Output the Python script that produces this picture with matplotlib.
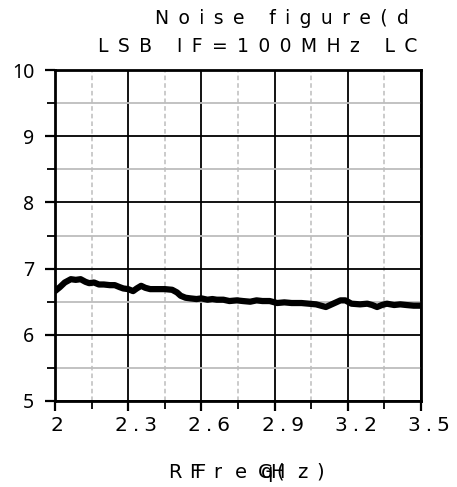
import matplotlib
matplotlib.use('Agg')
import matplotlib.pyplot as plt
import matplotlib.transforms as mtransforms
from matplotlib.ticker import AutoMinorLocator

# RF sweep, GHz, and the measured noise figure, dB
freq = [2.00, 2.02, 2.04, 2.065, 2.085, 2.105, 2.125, 2.14, 2.16, 2.18, 2.20,
        2.225, 2.245, 2.265, 2.28, 2.30, 2.32, 2.335, 2.353, 2.37, 2.39, 2.42,
        2.45, 2.48, 2.50, 2.515, 2.535, 2.555, 2.58, 2.60, 2.625, 2.645, 2.663,
        2.69, 2.715, 2.745, 2.77, 2.80, 2.826, 2.85, 2.88, 2.91, 2.94, 2.97,
        3.01, 3.04, 3.07, 3.09, 3.11, 3.14, 3.17, 3.19, 3.215, 3.25, 3.28, 3.30,
        3.32, 3.34, 3.36, 3.39, 3.415, 3.44, 3.47, 3.50]
nf_db = [6.66, 6.72, 6.79, 6.84, 6.83, 6.84, 6.80, 6.78, 6.79, 6.76, 6.76,
         6.75, 6.75, 6.72, 6.70, 6.69, 6.66, 6.70, 6.74, 6.71, 6.69, 6.69,
         6.69, 6.68, 6.64, 6.59, 6.56, 6.55, 6.54, 6.55, 6.53, 6.54, 6.53,
         6.53, 6.51, 6.52, 6.51, 6.50, 6.52, 6.51, 6.51, 6.48, 6.49, 6.48,
         6.48, 6.47, 6.46, 6.44, 6.42, 6.47, 6.52, 6.52, 6.47, 6.46, 6.47, 6.45,
         6.42, 6.45, 6.47, 6.45, 6.46, 6.45, 6.44, 6.44]

x_ticks = [2.0, 2.3, 2.6, 2.9, 3.2, 3.5]
x_tick_labels = ['2', '2.3', '2.6', '2.9', '3.2', '3.5']
y_ticks = [5, 6, 7, 8, 9, 10]
title_lines = ['Noise figure(d', 'LSB IF=100MHz LC']
x_label = 'RF Freq(GHz)'

W, H = 457, 487


def spaced(s, sep):
    return sep.join(s)


fig = plt.figure(figsize=(W / 100, H / 100), dpi=100)
ax = fig.add_axes([55 / W, 86 / H, 366 / W, 331 / H])

ax.plot(freq, nf_db, color='black', lw=4.5, solid_capstyle='round',
        solid_joinstyle='round', zorder=5)

ax.set_xlim(2.0, 3.5)
ax.set_ylim(5, 10)
ax.set_xticks(x_ticks)
ax.set_xticklabels([spaced(t, '\u2005') for t in x_tick_labels])
ax.set_yticks(y_ticks)
ax.xaxis.set_minor_locator(AutoMinorLocator(2))
ax.yaxis.set_minor_locator(AutoMinorLocator(2))

ax.grid(which='major', color='black', lw=1.3)
ax.xaxis.grid(which='minor', color='#bdbdbd', ls=(0, (3, 2)), lw=1.1)
ax.yaxis.grid(which='minor', color='#bdbdbd', ls='-', lw=1.3)
ax.set_axisbelow(True)

ax.tick_params(which='major', direction='out', length=7, width=1.6,
               color='black')
ax.tick_params(which='minor', direction='out', length=6, width=1.3)
ax.tick_params(axis='y', pad=8)
ax.tick_params(axis='x', pad=4)
for lab in ax.get_yticklabels():
    lab.set_fontfamily('Noto Sans')
    lab.set_fontsize(14)
for sp in ax.spines.values():
    sp.set_linewidth(2)

# letter-spaced tick labels sit a little right of their ticks
for lab in ax.get_xticklabels():
    lab.set_fontsize(14.5)
    shift = 2 if len(lab.get_text()) == 1 else 8
    lab.set_transform(lab.get_transform() +
                      mtransforms.ScaledTranslation(shift / 100, 0, fig.dpi_scale_trans))

# two-line heading, wide letter spacing
fig.text(155 / W, 1 - 18 / H, spaced(title_lines[0], '\u2002'), fontsize=13.5,
         ha='left', va='center')
fig.text(98 / W, 1 - 46 / H, spaced(title_lines[1], '\u2002'), fontsize=13.5,
         ha='left', va='center')

# axis title, glyphs placed one by one
label_x = [175, 195, 200, 217, 241, 267, 280, 265, 277, 302, 320]
for ch, px in zip(x_label.replace(' ', ''), label_x):
    fig.text(px / W, 1 - 472 / H, ch, fontsize=14, ha='center', va='center')

fig.savefig('out.png', dpi=100)
